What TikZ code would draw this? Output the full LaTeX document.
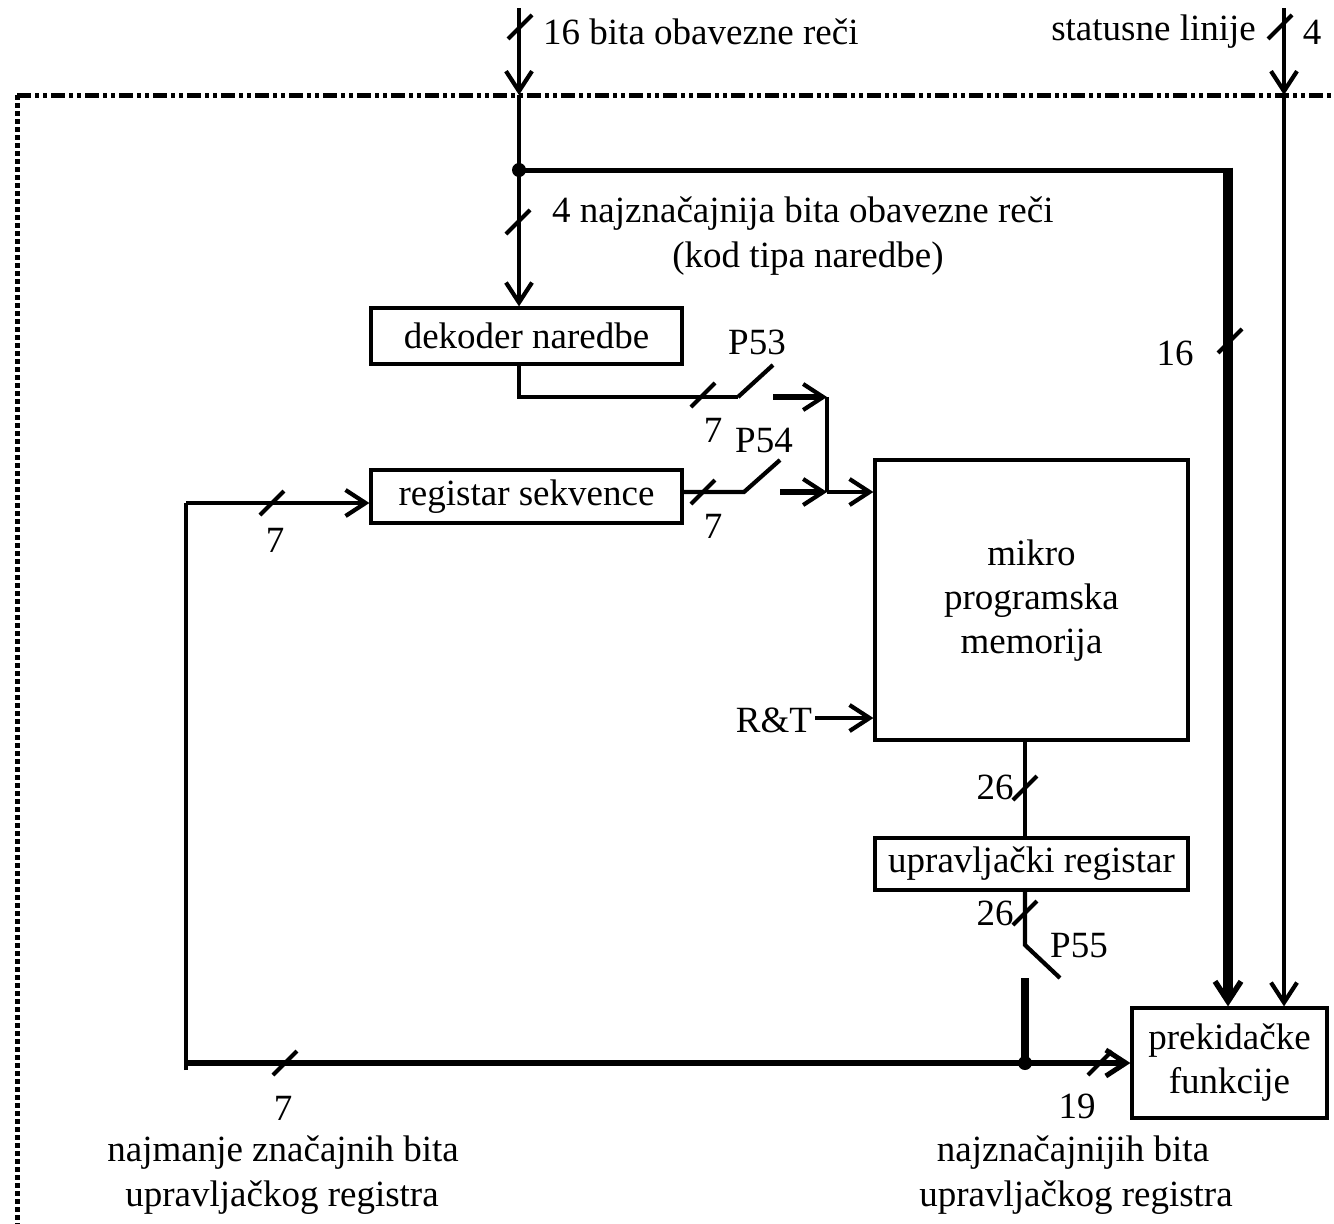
\documentclass[tikz,border=0pt]{standalone}
\usepackage{fontspec}
\setmainfont{Liberation Serif}
\usetikzlibrary{arrows.meta,calc}
\begin{document}
\begin{tikzpicture}[x=1pt,y=-1pt,
  every node/.style={font=\fontsize{37}{44}\selectfont, inner sep=0pt},
  blk/.style={draw, line width=3.2pt, align=center},
  wire/.style={line width=4.2pt},
  bus/.style={line width=6pt},
  arr/.style={-{Straight Barb[length=20pt,width=26pt,line width=4.2pt]}},
  tick/.style={line width=4pt},
  frametop/.style={line width=5pt, dash pattern=on 14pt off 4pt on 4pt off 4pt on 4pt off 4pt},
  frameleft/.style={line width=5pt, dash pattern=on 5pt off 3pt},
  dotj/.style={fill=black}
]
\useasboundingbox (0,0) rectangle (1334,1224);
\newcommand\slashat[1]{\draw[tick] ($(#1)+(-12,12)$) -- ($(#1)+(12,-12)$);}

% frame
\draw[frametop] (17,95) -- (1334,95);
\draw[frameleft] (17,95) -- (17,1224);

% boxes
\node[blk, minimum width=311pt, minimum height=56pt] (dek) at (526.5,336) {dekoder naredbe};
\node[blk, minimum width=311pt, minimum height=53pt] (rs) at (526.5,496.5) {registar sekvence};
\node[blk, minimum width=313pt, minimum height=280pt] (mem) at (1031.5,600) {};
\node (memt) at (1031.5,601) [align=center] {mikro\\programska\\memorija};
\node[blk, minimum width=313pt, minimum height=52pt] (upr) at (1031.5,864) {upravljački registar};
\node[blk, minimum width=195pt, minimum height=110pt] (pf) at (1229.5,1063) {prekidačke\\funkcije};

% coordinates
\coordinate (in16) at (519,8);
\coordinate (fr16) at (519,95);
\coordinate (jn) at (519,170);
\coordinate (cr) at (1228,170);
\coordinate (inst) at (1284,8);
\coordinate (frst) at (1284,95);
\coordinate (d1) at (519,397);
\coordinate (s53a) at (738,397);
\coordinate (s53b) at (773,365);
\coordinate (s53c) at (773,397);
\coordinate (m53) at (827,397);
\coordinate (s54a) at (744,492);
\coordinate (s54b) at (780,460);
\coordinate (s54c) at (780,492);
\coordinate (m54) at (827,492);
\coordinate (s55a) at (1025,945);
\coordinate (s55b) at (1060,978);
\coordinate (s55c) at (1025,978);
\coordinate (jb) at (1025,1063);
\coordinate (bl) at (186,1063);
\coordinate (blb) at (186,1070);
\coordinate (tl) at (186,503);

% top inputs
\draw[wire, arr] (in16) -- (fr16);
\draw[wire] (fr16) -- (jn);
\draw[wire, arr] (jn) -- (dek.north -| jn);
\draw[line width=5pt] (jn) -- ($(cr)+(5,0)$);
\draw[line width=10pt, -{Straight Barb[length=20pt,width=26pt,line width=5.5pt]}] ($(cr)+(0,-2.5)$) -- (pf.north -| cr);
\draw[wire, arr] (inst) -- (frst);
\draw[wire, arr] (frst) -- (pf.north -| frst);
\fill[dotj] (jn) circle (7pt);

% dekoder to memory
\draw[wire] (dek.south -| d1) -- (d1) -- (s53a);
\draw[wire] (s53a) -- (s53b);
\draw[bus, arr] (s53c) -- (m53);
\draw[wire] (m53) -- (m54);
\draw[wire] (rs.east |- s54a) -- (s54a) -- (s54b);
\draw[bus, arr] (s54c) -- (m54);
\draw[wire, arr] (m54) -- (mem.west |- m54);

% R&T
\node (rt) at (774,720) {R\&T};
\draw[wire, arr] ($(rt.east)+(3,-2)$) -- (mem.west |- 0,718);

% memory to upr and P55
\draw[wire] (mem.south -| s55a) -- (upr.north -| s55a);
\draw[wire] (upr.south -| s55a) -- (s55a) -- (s55b);
\draw[line width=7.5pt] (s55c) -- (jb);

% bottom bus and feedback
\draw[wire] (blb) -- (tl);
\draw[wire, arr] (tl) -- (rs.west |- tl);
\draw[line width=6.5pt, -{Straight Barb[length=20pt,width=26pt,line width=5pt]}] (bl) -- (pf.west);
\fill[dotj] (jb) circle (7pt);

% slashes
\slashat{520,27}
\slashat{1280,27}
\slashat{518,222}
\slashat{1230,341}
\slashat{703,395}
\slashat{703,492}
\slashat{272,503}
\slashat{1025,788}
\slashat{1025,913}
\slashat{285,1063}
\slashat{1100,1063}

% labels
\node[anchor=west] (l16) at (543,32) {16 bita obavezne reči};
\node[anchor=east] (lst) at (1256,32) {statusne linije};
\node (l4) at (1312,32) {4};
\node[anchor=west] (l4n) at (552,214) {4 najznačajnija bita obavezne reči};
\node (lkod) at (808,259) {(kod tipa naredbe)};
\node (l16b) at (1175,353) {16};
\node (p53) at (757,342) {P53};
\node (n7a) at (713,430) {7};
\node (p54) at (764,440) {P54};
\node (n7b) at (713,526) {7};
\node (n7c) at (275,540) {7};
\node (n26a) at (995,787) {26};
\node (n26b) at (995,913) {26};
\node (p55) at (1079,946) {P55};
\node (n19) at (1077,1106) {19};
\node (n7d) at (283,1108) {7};
\node (lb1) at (283,1153) {najmanje značajnih bita};
\node (lb2) at (282,1198) {upravljačkog registra};
\node (lr1) at (1073,1153) {najznačajnijih bita};
\node (lr2) at (1076,1198) {upravljačkog registra};
\end{tikzpicture}
\end{document}
